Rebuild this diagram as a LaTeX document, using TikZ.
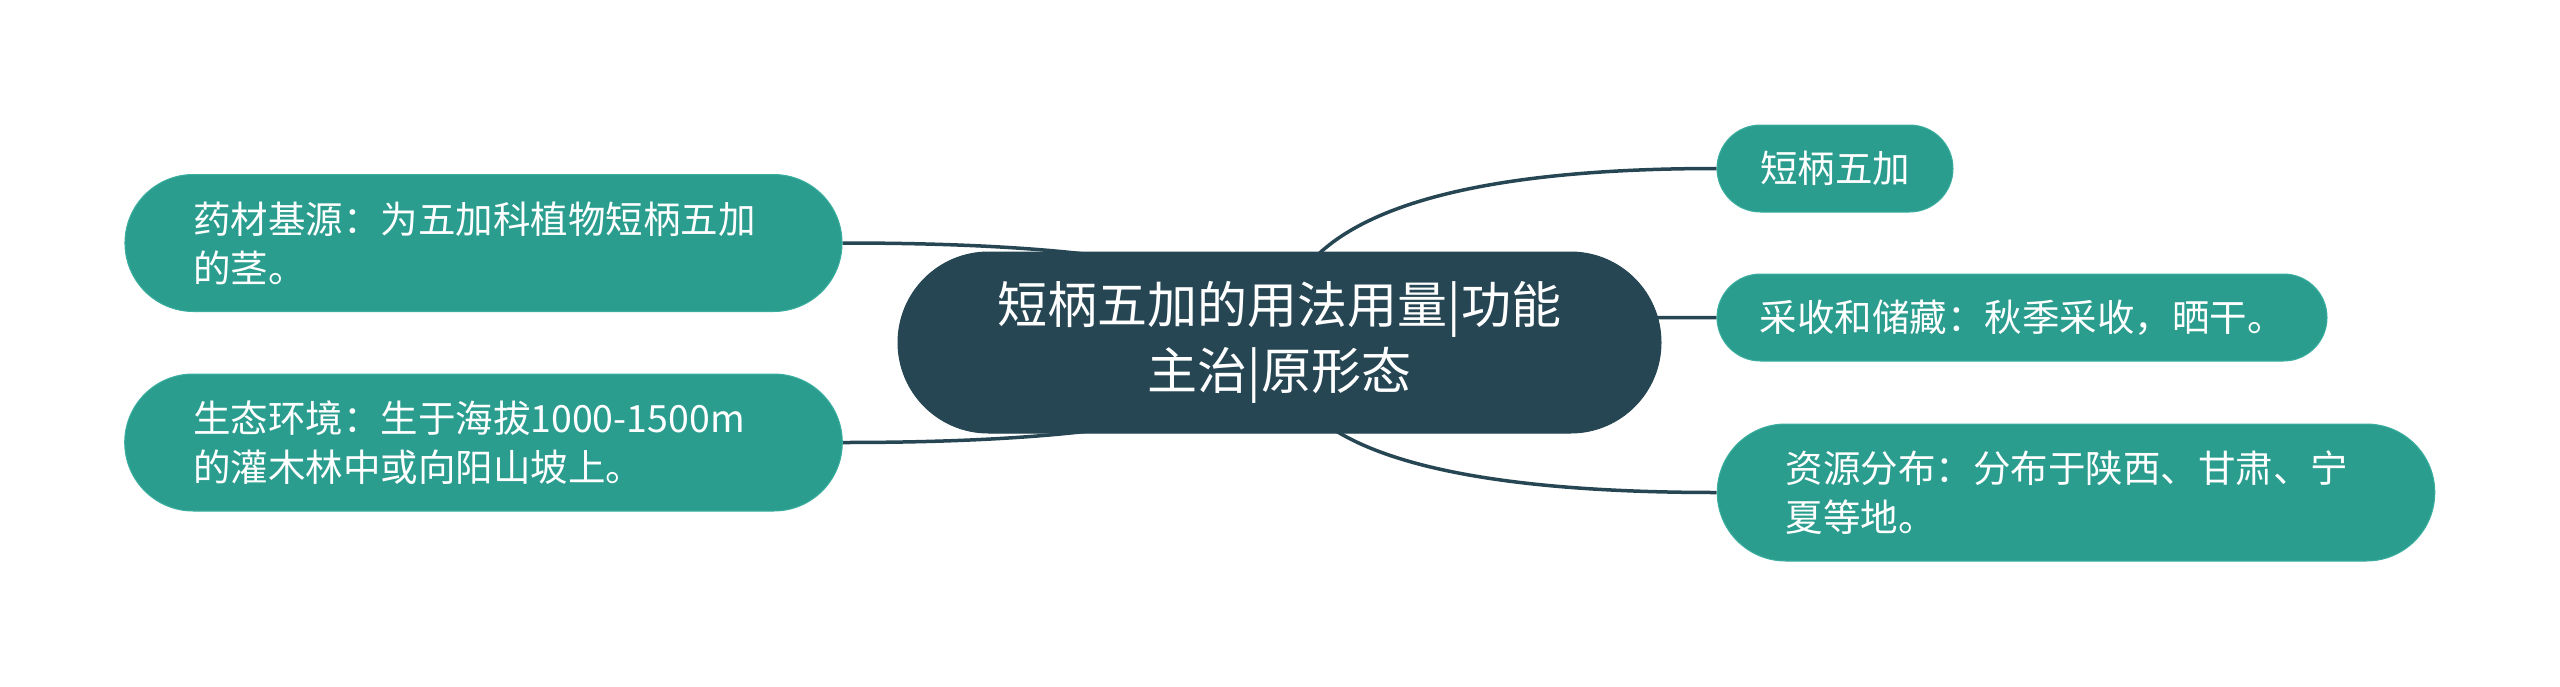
\documentclass[tikz,border=0pt]{standalone}
\usepackage{fontspec}
\setmainfont{Noto Sans CJK SC}
\usetikzlibrary{shapes.misc,calc,backgrounds}
\definecolor{darkslate}{HTML}{264653}
\definecolor{teal1}{HTML}{2A9D8F}
\definecolor{teal2}{HTML}{3AAE9F}
\tikzset{
  rootbox/.style={rounded rectangle, fill=darkslate, draw=darkslate, line width=1pt,
    text=white, inner sep=0pt, minimum width=763pt, minimum height=181pt,
    align=center, font=\fontsize{50pt}{66pt}\selectfont},
  leafbox/.style={rounded rectangle, fill=teal1, draw=teal2, line width=1pt,
    text=white, inner ysep=0pt, font=\fontsize{37.5pt}{49pt}\selectfont},
  widebox/.style={leafbox, inner xsep=54pt, text width=581pt, align=left, minimum height=137pt},
  shortbox/.style={leafbox, inner xsep=0pt, align=center, minimum height=87pt},
  conn/.style={draw=darkslate, line width=3.5pt}
}
\begin{document}
\begin{tikzpicture}[x=1pt,y=-1pt]
\useasboundingbox (0,0) rectangle (2560,686);
\node[rootbox] (C) at (1279.5,342.5) {短柄五加的用法用量|功能\\主治|原形态};
\node[widebox] (L1) at (483.5,243) {药材基源：为五加科植物短柄五加\\的茎。};
\node[widebox] (L2) at (483.5,442.5) {生态环境：生于海拔1000-1500m\\的灌木林中或向阳山坡上。};
\node[shortbox, minimum width=236pt] (R1) at (1835,168.5) {短柄五加};
\node[shortbox, minimum width=610pt] (R2) at (2022,317.5) {采收和储藏：秋季采收，晒干。};
\node[widebox] (R3) at (2076,492.5) {资源分布：分布于陕西、甘肃、宁\\夏等地。};
\begin{scope}[on background layer]
\fill[white] (0,0) rectangle (2560,686);
\coordinate (k1) at (C.center |- R1.west);
\coordinate (k2) at (C.center |- R2.west);
\coordinate (k3) at (C.center |- R3.west);
\coordinate (k4) at (C.center |- L1.east);
\coordinate (k5) at (C.center |- L2.east);
\draw[conn] (C.center) .. controls ($(C.center)!0.6667!(k1)$) and ($(R1.west)!0.6667!(k1)$) .. (R1.west);
\draw[conn] (C.center) .. controls ($(C.center)!0.6667!(k2)$) and ($(R2.west)!0.6667!(k2)$) .. (R2.west);
\draw[conn] (C.center) .. controls ($(C.center)!0.6667!(k3)$) and ($(R3.west)!0.6667!(k3)$) .. (R3.west);
\draw[conn] (C.center) .. controls ($(C.center)!0.6667!(k4)$) and ($(L1.east)!0.6667!(k4)$) .. (L1.east);
\draw[conn] (C.center) .. controls ($(C.center)!0.6667!(k5)$) and ($(L2.east)!0.6667!(k5)$) .. (L2.east);
\end{scope}
\end{tikzpicture}
\end{document}
